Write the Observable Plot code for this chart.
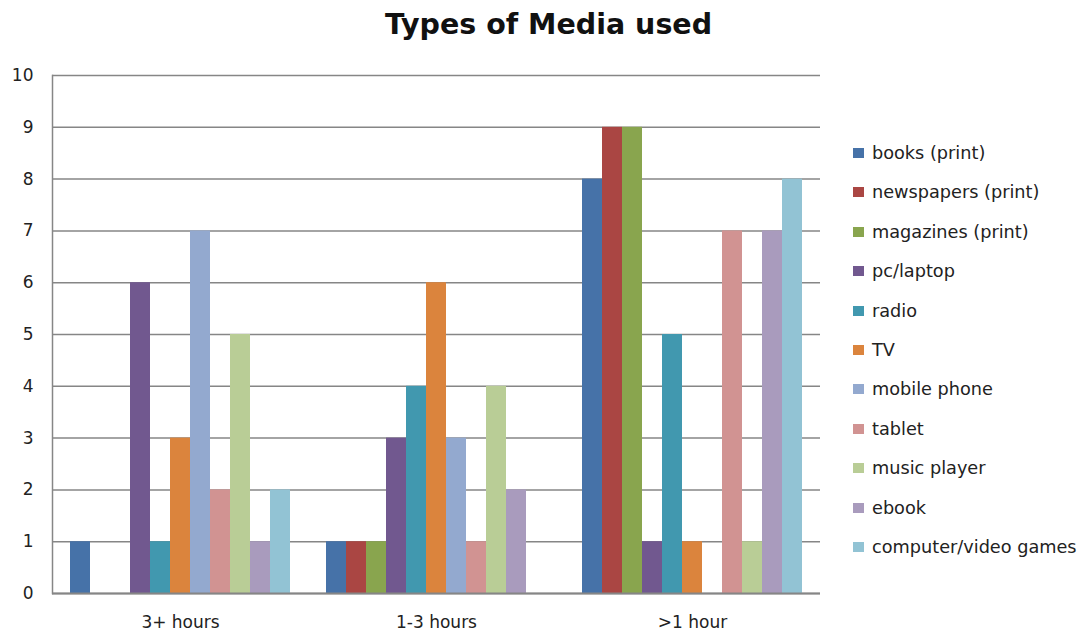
<!DOCTYPE html>
<html>
<head>
<meta charset="utf-8">
<script src="https://cdn.jsdelivr.net/npm/d3@7"></script>
<script src="https://cdn.jsdelivr.net/npm/@observablehq/plot@0.6"></script>
<style>
  html, body { margin: 0; padding: 0; background: #fff; }
  #chart { position: relative; width: 1087px; height: 639px; font-family: "DejaVu Sans", sans-serif; color: #222; overflow: hidden; }
  #title { position: absolute; top: 11px; left: 5px; width: 1087px; text-align: center; font-size: 28.5px; line-height: 28px; font-weight: bold; color: #111; }
  #plot { position: absolute; top: 60px; left: 0; }
  #legend { position: absolute; left: 853px; top: 143px; }
  .item { position: relative; height: 39.4px; font-size: 17.7px; line-height: 20px; white-space: nowrap; }
  .sw { position: absolute; left: 0; top: 5px; width: 11px; height: 10px; }
  .lab { position: absolute; left: 19px; top: 0; }
</style>
</head>
<body>
<div id="chart">
  <div id="title">Types of Media used</div>
  <div id="plot"></div>
  <div id="legend"></div>
</div>
<script>
const groups = ["3+ hours", "1-3 hours", ">1 hour"];
const media = ["books (print)", "newspapers (print)", "magazines (print)", "pc/laptop", "radio", "TV", "mobile phone", "tablet", "music player", "ebook", "computer/video games"];
const hours3plus = [1, 0, 0, 6, 1, 3, 7, 2, 5, 1, 2];
const hours1to3  = [1, 1, 1, 3, 4, 6, 3, 1, 4, 2, 0];
const hoursLess1 = [8, 9, 9, 1, 5, 1, 0, 7, 1, 7, 8];
const colors = ["#4672A8", "#AA4643", "#89A54E", "#71588F", "#4198AF", "#DB843D", "#93A9CF", "#D19392", "#B9CD96", "#A99BBD", "#92C3D4"];
const yTicks = [0, 1, 2, 3, 4, 5, 6, 7, 8, 9, 10];

const seriesByGroup = [hours3plus, hours1to3, hoursLess1];
const table = [];
groups.forEach((g, gi) => media.forEach((m, mi) => table.push({group: g, media: m, value: seriesByGroup[gi][mi]})));

const chart = Plot.plot({
  width: 1087,
  height: 579,
  marginTop: 15,
  marginBottom: 46,
  marginLeft: 52,
  marginRight: 267,
  style: {fontFamily: "DejaVu Sans, sans-serif", fontSize: "17px", color: "#222", background: "white", overflow: "visible"},
  fx: {domain: groups, padding: 0, label: null},
  x: {domain: media, paddingInner: 0, paddingOuter: 0.75, axis: null},
  y: {domain: [0, 10], axis: null},
  color: {domain: media, range: colors},
  marks: [
    Plot.gridY(yTicks, {stroke: "#868686", strokeOpacity: 1, strokeWidth: 1.5}),
    Plot.barY(table, {fx: "group", x: "media", y: "value", fill: "media"}),
    Plot.ruleY([0], {stroke: "#868686", strokeWidth: 2}),
    Plot.frame({anchor: "left", facetAnchor: "left", stroke: "#868686", strokeWidth: 1.5}),
    Plot.axisY(yTicks, {anchor: "left", tickSize: 0, tickPadding: 19, fill: "#222", stroke: "none", label: null, tickFormat: d3.format("d")}),
    Plot.axisFx({anchor: "bottom", tickSize: 0, tickPadding: 22, label: null, fill: "#222"})
  ]
});
document.getElementById("plot").appendChild(chart);

const legend = document.getElementById("legend");
media.forEach((m, i) => {
  const row = document.createElement("div");
  row.className = "item";
  const sw = document.createElement("div");
  sw.className = "sw";
  sw.style.background = colors[i];
  const lab = document.createElement("div");
  lab.className = "lab";
  lab.textContent = m;
  row.appendChild(sw);
  row.appendChild(lab);
  legend.appendChild(row);
});
</script>
</body>
</html>
